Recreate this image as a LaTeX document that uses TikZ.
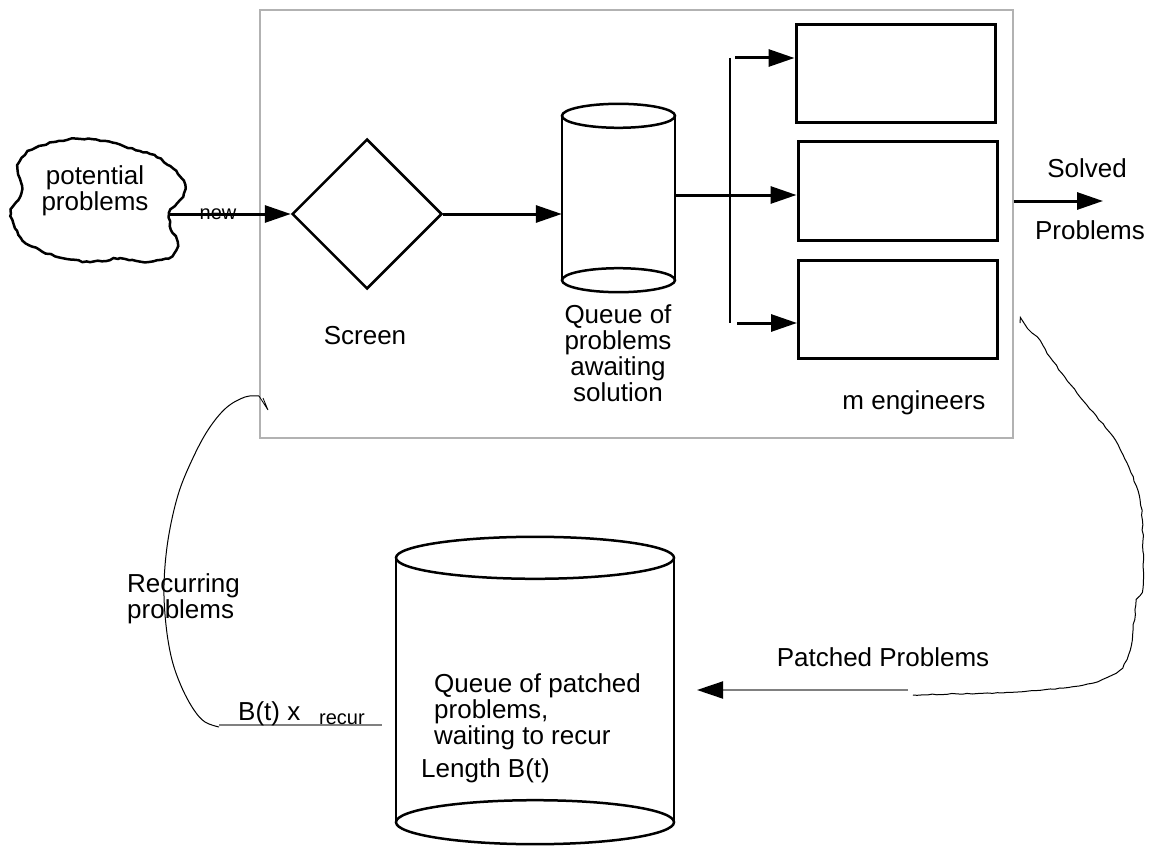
\documentclass[tikz,border=0pt]{standalone}
\usepackage{fontspec}
\setmainfont{Liberation Sans}
\usetikzlibrary{arrows.meta,shapes.geometric,decorations.pathmorphing}

\tikzset{
  arr/.style={line width=3pt,-{Triangle[length=26pt,width=17pt]}},
  garr/.style={line width=2pt,draw=black!50,-{Triangle[length=26pt,width=17pt,color=black]}},
  engbox/.style={draw,line width=3pt,minimum width=199pt,minimum height=98pt,inner sep=0pt},
  hand/.style={line width=1pt,decorate,decoration={random steps,segment length=5pt,amplitude=0.6pt}},
  lbl/.style={font=\fontsize{26}{26}\selectfont,inner sep=0pt},
  small/.style={font=\fontsize{20}{22}\selectfont,inner sep=0pt},
}

\begin{document}
\begin{tikzpicture}[x=1pt,y=-1pt]
\pgfmathsetseed{7}
\useasboundingbox (0,0) rectangle (1154,848);
% Frame round the repair process
\node[draw=black!30,line width=1.5pt,minimum width=753pt,minimum height=428pt] (plant) at (636.5,224) {};
% Cloud of potential problems
\draw[line width=2.5pt,decorate,decoration={random steps,segment length=4pt,amplitude=1pt}]
  plot[smooth cycle,tension=0.55] coordinates {(32,150) (55,142) (80,139) (105,141) (128,148) (150,154)
  (170,166) (185,185) (180,200) (171,210) (170,226) (177,242) (172,256) (148,262) (118,259) (90,262)
  (62,258) (40,250) (21,238) (11,214) (18,200) (22,186) (18,170) (22,158)};
\node[lbl,align=center] (pooltext) at (95,191) {potential\\problems};
\coordinate (poolout) at (170,214);
% Screen
\node[diamond,draw,line width=2.5pt,minimum width=150pt,minimum height=150pt,inner sep=0pt] (screen) at (367,214) {};
\node[lbl] (screenlbl) at (365,336) {Screen};
\draw[arr] (poolout) -- (screen.west);
\node[small,anchor=base] (newlbl) at (218,219) {new};
% Queue awaiting solution
\node[minimum width=113pt,minimum height=164pt,inner sep=0pt] (queue) at (618.5,198) {};
\draw[line width=2.5pt] (queue.north) ellipse [x radius=56.5pt, y radius=12pt];
\draw[line width=2.5pt] (queue.south) ellipse [x radius=56.5pt, y radius=12pt];
\draw[line width=2.5pt] (queue.north west) -- (queue.south west) (queue.north east) -- (queue.south east);
\node[lbl,align=center] (queuelbl) at (618,353) {Queue of\\problems\\awaiting\\solution};
\draw[arr] (screen.east) -- (screen.east -| queue.west);
% Engineers
\foreach \n/\x/\y in {1/895.5/74, 2/897.5/191, 3/898/309}
  \node[engbox] (eng\n) at (\x,\y) {};
\node[lbl] (englbl) at (914,403) {m engineers};
\coordinate (forktop) at (730,58);
\coordinate (forkbot) at (730,323);
\coordinate (split) at (queue.east |- 0,195);
\draw[line width=2.5pt] (forktop) -- (forkbot);
\draw[arr] ([xshift=5pt]forktop) -- (forktop -| eng1.west);
\draw[arr] (split) -- (split -| eng2.west);
\draw[arr] ([xshift=7pt]forkbot) -- (forkbot -| eng3.west);
% Solved problems leave
\coordinate (solved) at (1103,201);
\draw[arr] (solved -| plant.east) -- (solved);
\node[lbl] (solvedlbl) at (1087,168) {Solved};
\node[lbl] (solvedlbl2) at (1090,230) {Problems};
% Queue of patched problems
\node[minimum width=278pt,minimum height=264pt,inner sep=0pt] (backlog) at (535,690) {};
\draw[line width=2.5pt] (backlog.north) ellipse [x radius=139pt, y radius=21pt];
\draw[line width=2.5pt] (backlog.south) ellipse [x radius=139pt, y radius=22pt];
\draw[line width=2.5pt] (backlog.north west) -- (backlog.south west) (backlog.north east) -- (backlog.south east);
\node[lbl,align=left,anchor=north west] (backloglbl) at (434,673) {Queue of patched\\problems,\\waiting to recur};
\node[lbl,anchor=west] (lengthlbl) at (421,771) {Length B(t)};
% Patched problems go back
\coordinate (patchtail) at (908,690);
\coordinate (patchtip) at (697,690);
\draw[hand] plot[smooth] coordinates {(1020,323) (1037,337) (1050,357) (1080,397) (1110,433) (1127,463)
  (1140,500) (1143,540) (1143,587) (1137,600) (1133,630) (1130,650) (1120,670) (1093,683) (1060,688)
  (1017,692) (913,695)};
\draw[garr] (patchtail) -- (patchtip);
\node[lbl] (patchlbl) at (883,657) {Patched Problems};
% Recurring problems
\coordinate (recurout) at (219,725);
\draw[line width=2pt,draw=black!50] (recurout) -- ([xshift=-14pt]recurout -| backlog.west);
\node[lbl,anchor=base west] (ratelbl) at (238,720) {B(t) x};
\node[small,anchor=base west] (ratesub) at (319,724) {recur};
\draw[line width=1pt] plot[smooth,tension=0.6] coordinates {(219,727) (205,722) (194,710) (182,688)
  (172,660) (166,625) (164,585) (168,540) (178,495) (192,460) (208,430) (226,408) (245,397) (259,396)};
\draw[line width=0.8pt] (259,396) -- (268,410) -- (263,398);
\node[lbl,align=left,anchor=west] (recurlbl) at (127,599) {Recurring\\problems};
\end{tikzpicture}
\end{document}
